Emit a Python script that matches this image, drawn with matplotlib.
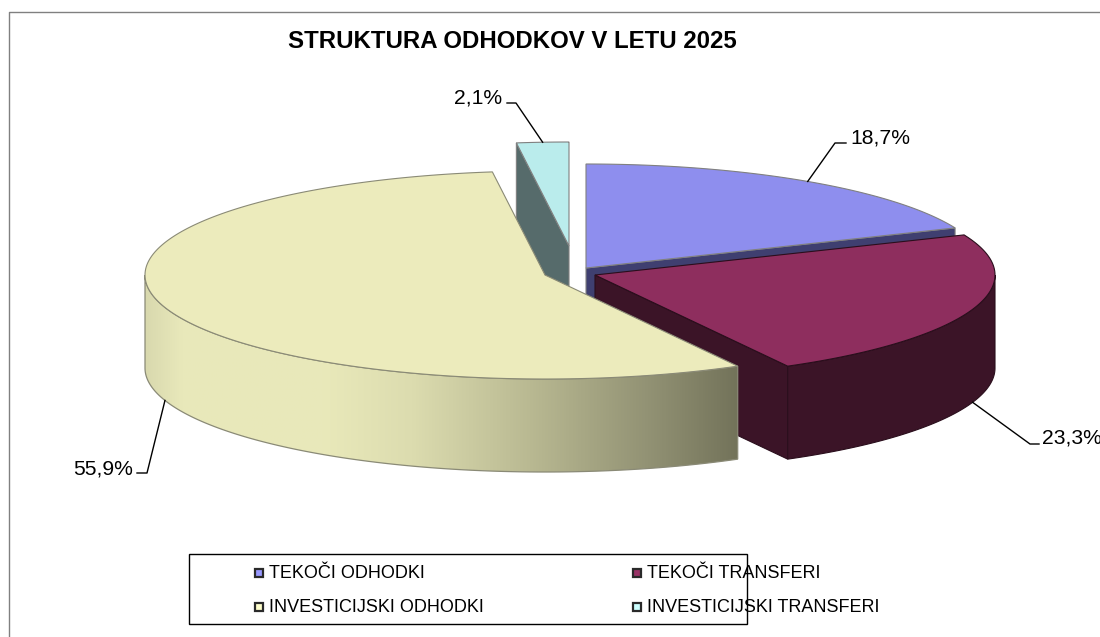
import numpy as np
import matplotlib
matplotlib.use('Agg')
from matplotlib import pyplot as plt
from matplotlib.colors import LinearSegmentedColormap
from matplotlib.patches import Polygon, Rectangle

plt.rcParams['font.family'] = ['Liberation Sans', 'DejaVu Sans']

title = 'STRUKTURA ODHODKOV V LETU 2025'
categories = ['TEKOČI ODHODKI', 'TEKOČI TRANSFERI', 'INVESTICIJSKI ODHODKI', 'INVESTICIJSKI TRANSFERI']
shares = [18.7, 23.3, 55.9, 2.1]
labels = ['18,7%', '23,3%', '55,9%', '2,1%']

# barve
top_colors = ['#8e8eee', '#8e2e5e', '#ecebbc', '#baecec']
side_colors = ['#3f3f70', '#3b1427', '#e8e8b8', '#566b6b']
edge_colors = ['#808080', '#2a0e1c', '#8a8a76', '#808080']
legend_colors = ['#9999ff', '#993366', '#ffffcc', '#ccffff']

# geometrija torte, v pikslih
cx, cy = 570, 273
rx, ry = 400, 104
depth = 93
shifts = [(16, -5), (25, 2), (-25, 2), (-1, -27)]

fig = plt.figure(figsize=(11, 6.37), dpi=100)
ax = fig.add_axes([0, 0, 1, 1])
ax.axis('off')


def point(i, deg):
    t = np.radians(deg)
    return (cx + shifts[i][0] + rx * np.sin(t), cy + shifts[i][1] - ry * np.cos(t))


def arc(i, a, b):
    t = np.radians(np.linspace(a, b, 200))
    x = cx + shifts[i][0] + rx * np.sin(t)
    y = cy + shifts[i][1] - ry * np.cos(t)
    return np.column_stack([x, y])


def draw_top(i, a, b, z):
    apex = point(i, 0)[0], cy + shifts[i][1]
    pts = np.vstack([[apex], arc(i, a, b)])
    ax.add_patch(Polygon(pts, closed=True, fc=top_colors[i], ec=edge_colors[i], lw=0.8, zorder=z))


def draw_cut(i, deg, z):
    apex = point(i, 0)[0], cy + shifts[i][1]
    p = point(i, deg)
    pts = [apex, p, (p[0], p[1] + depth), (apex[0], apex[1] + depth)]
    ax.add_patch(Polygon(pts, closed=True, fc=side_colors[i], ec=edge_colors[i], lw=0.8, zorder=z))


def wall_poly(i, a, b):
    top = arc(i, a, b)
    low = top[::-1] + [0, depth]
    return np.vstack([top, low])


angles = np.cumsum([0] + shares) * 3.6

# zadnji kos
draw_cut(3, angles[3], 1)
draw_top(3, angles[3], angles[4], 2)

# tekoci odhodki
draw_cut(0, angles[1], 3)
draw_top(0, angles[0], angles[1], 4)

# tekoci transferi
draw_cut(1, angles[2], 5)
ax.add_patch(Polygon(wall_poly(1, 90, angles[2]), closed=True, fc=side_colors[1], ec=edge_colors[1], lw=0.8, zorder=6))
draw_top(1, angles[1], angles[2], 7)

# investicijski odhodki, stena s prelivom
yellow_wall = Polygon(wall_poly(2, angles[2], 270), closed=True, fc='none', ec=edge_colors[2], lw=0.9, zorder=9)
ax.add_patch(yellow_wall)
grad = LinearSegmentedColormap.from_list('wall', [
    (0.0, '#d9d9ae'), (0.06, '#e8e8ba'), (0.30, '#e9e9ba'), (0.45, '#dcdcaf'),
    (0.65, '#b9b992'), (0.85, '#929274'), (1.0, '#73735a')])
left_x, right_x = point(2, 270)[0], point(2, angles[2])[0]
img = ax.imshow(np.linspace(0, 1, 256).reshape(1, -1), cmap=grad, aspect='auto',
                extent=(left_x, right_x, 500, 250), zorder=8)
img.set_clip_path(yellow_wall)
draw_top(2, angles[2], angles[3], 10)

# oznake
label_pos = [(850, 138, 'left', 846, 143), (1042, 438, 'left', 1039, 444),
             (133, 469, 'right', 137, 473), (502, 97.5, 'right', 507, 103)]
for i, (tx, ty, ha, ex, ey) in enumerate(label_pos):
    mid = (angles[i] + angles[i + 1]) / 2
    px, py = point(i, mid)
    if 90 < mid < 270:
        py += depth
    knee = {0: 835, 1: 1030, 2: 147, 3: 516}[i]
    ax.plot([px, knee, ex], [py, ey, ey], color='black', lw=1.0, zorder=12)
    ax.text(tx, ty, labels[i], fontsize=15.2, ha=ha, va='center', color='black', zorder=13)

ax.text(512.5, 41.5, title, fontsize=17.3, fontweight='bold', ha='center', va='center', color='black')

# legenda
ax.add_patch(Rectangle((189, 556), 558, 69, fc='#808080', ec='none', zorder=14))
ax.add_patch(Rectangle((189, 554), 558, 70, fc='white', ec='black', lw=1.0, zorder=15))
legend_x = [255, 633]
legend_y = [573, 607]
for i, name in enumerate(categories):
    lx = legend_x[i % 2]
    ly = legend_y[i // 2]
    ax.add_patch(Rectangle((lx, ly - 4), 8, 8, fc=legend_colors[i], ec='#2a2a2a', lw=1.6, zorder=16))
    ax.text(lx + 14, ly + 1, name, fontsize=13, ha='left', va='center', color='black', zorder=16)

# okvir
ax.plot([9, 9, 1100], [637, 12, 12], color='#808080', lw=1.0, zorder=0)

ax.set_xlim(0, 1100)
ax.set_ylim(637, 0)
fig.savefig('out.png', dpi=100)
